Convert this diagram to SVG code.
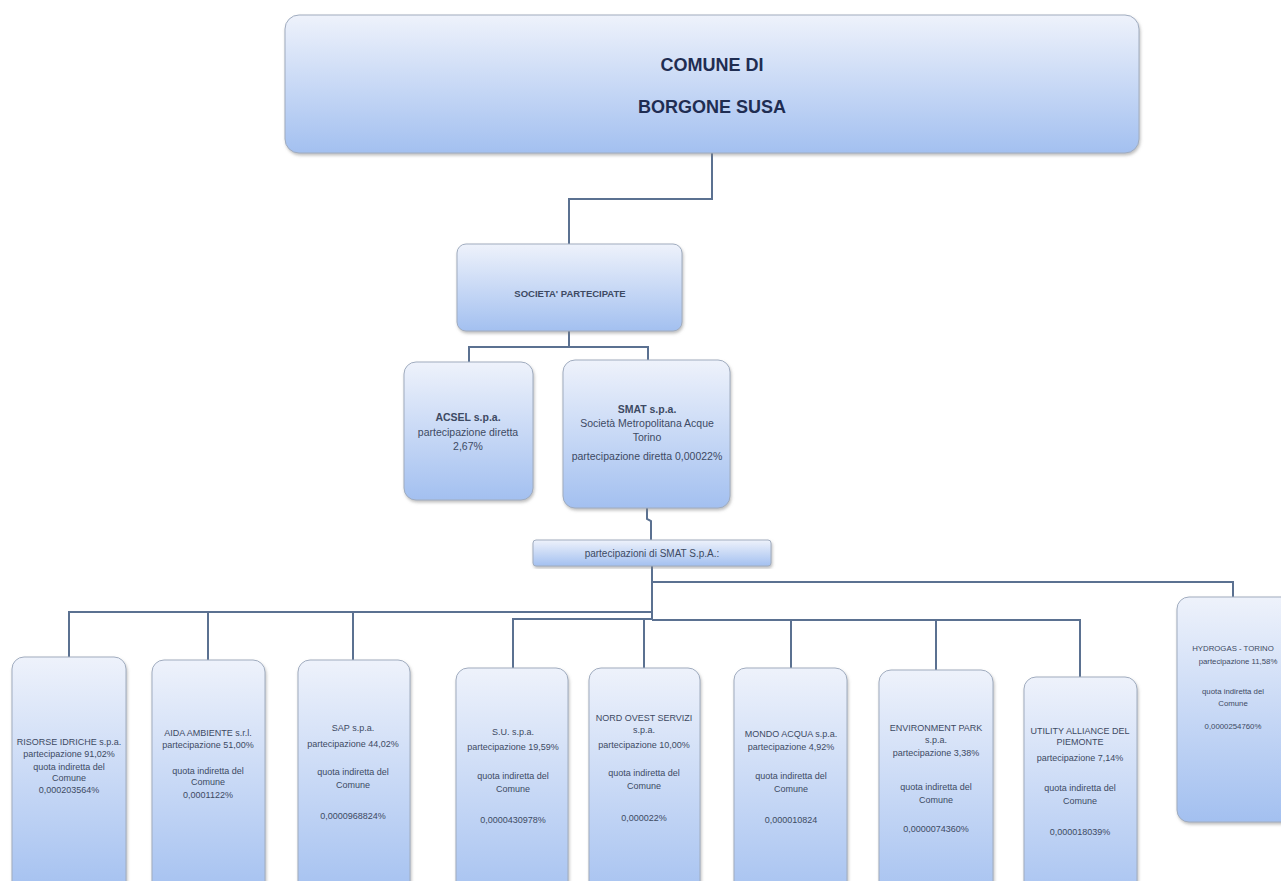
<svg xmlns="http://www.w3.org/2000/svg" width="1281" height="881" viewBox="0 0 1281 881">
<defs>
<linearGradient id="g" x1="0" y1="0" x2="0" y2="1">
<stop offset="0" stop-color="#eef2fb"/>
<stop offset="1" stop-color="#a3c0f0"/>
</linearGradient>
<filter id="sh" x="-10%" y="-10%" width="120%" height="120%">
<feDropShadow dx="1" dy="2" stdDeviation="1.5" flood-color="#808080" flood-opacity="0.5"/>
</filter>
</defs>
<style>
.box{fill:url(#g);stroke:#a0acbf;stroke-width:1;filter:url(#sh)}
.t{font-family:"Liberation Sans",Arial,sans-serif;font-size:9px;fill:#3d4a63;text-anchor:middle}
.m{font-size:10.5px}
.s{font-size:7.8px}
.b{font-weight:bold}
.big{font-family:"Liberation Sans",Arial,sans-serif;font-size:18px;font-weight:bold;fill:#1f2d52;text-anchor:middle}
.c{fill:none;stroke:#5b7191;stroke-width:2}
</style>
<rect width="1281" height="881" fill="#ffffff"/>
<g id="connectors">
<path class="c" d="M712 153 V199 H569 V244"/>
<path class="c" d="M569 331 V347 H469 V362 M569 347 H648 V360"/>
<path class="c" d="M647 508 V519 L651 521 V540"/>
<path class="c" d="M652 566 V620"/>
<path class="c" d="M652 582 H1233 V597"/>
<path class="c" d="M652 612 H69 V657 M208 612 V660 M353 612 V661"/>
<path class="c" d="M652 619 H513 V668 M644 619 V668 M652 620 H1080 V677 M791 620 V668 M936 620 V670"/>
</g>
<g id="comune">
<rect class="box" x="285" y="15" width="854" height="138" rx="14"/>
<text class="big" x="712" y="71">COMUNE DI</text>
<text class="big" x="712" y="113">BORGONE SUSA</text>
</g>
<g id="partecipate">
<rect class="box" x="457" y="244" width="225" height="87" rx="9"/>
<text class="t b" x="570" y="297" style="font-size:9.5px">SOCIETA'  PARTECIPATE</text>
</g>
<g id="acsel">
<rect class="box" x="404" y="362" width="129" height="138" rx="12"/>
<text class="t m b" x="468" y="421">ACSEL  s.p.a.</text>
<text class="t m" x="468" y="436">partecipazione diretta</text>
<text class="t m" x="468" y="450">2,67%</text>
</g>
<g id="smat">
<rect class="box" x="563" y="360" width="167" height="148" rx="12"/>
<text class="t m b" x="647" y="413">SMAT s.p.a.</text>
<text class="t m" x="647" y="427">Società Metropolitana Acque</text>
<text class="t m" x="647" y="441">Torino</text>
<text class="t m" x="647" y="460">partecipazione diretta 0,00022%</text>
</g>
<g id="smat-part">
<rect class="box" x="533" y="540" width="238" height="26" rx="3"/>
<text class="t" x="652" y="557" style="font-size:10px">partecipazioni di SMAT S.p.A.:</text>
</g>
<g id="risorse">
<rect class="box" x="12" y="657" width="114" height="240" rx="12"/>
<text class="t" x="69" y="745">RISORSE IDRICHE s.p.a.</text>
<text class="t" x="69" y="757">partecipazione  91,02%</text>
<text class="t" x="69" y="770">quota indiretta del</text>
<text class="t" x="69" y="781">Comune</text>
<text class="t" x="69" y="793">0,000203564%</text>
</g>
<g id="aida">
<rect class="box" x="152" y="660" width="113" height="240" rx="12"/>
<text class="t" x="208" y="736">AIDA AMBIENTE s.r.l.</text>
<text class="t" x="208" y="748">partecipazione 51,00%</text>
<text class="t" x="208" y="774">quota indiretta del</text>
<text class="t" x="208" y="785">Comune</text>
<text class="t" x="208" y="798">0,0001122%</text>
</g>
<g id="sap">
<rect class="box" x="298" y="660" width="112" height="240" rx="12"/>
<text class="t" x="353" y="731">SAP s.p.a.</text>
<text class="t" x="353" y="747">partecipazione 44,02%</text>
<text class="t" x="353" y="775">quota indiretta del</text>
<text class="t" x="353" y="788">Comune</text>
<text class="t" x="353" y="819">0,0000968824%</text>
</g>
<g id="su">
<rect class="box" x="456" y="668" width="112" height="240" rx="12"/>
<text class="t" x="513" y="735">S.U.  s.p.a.</text>
<text class="t" x="513" y="750">partecipazione 19,59%</text>
<text class="t" x="513" y="779">quota indiretta del</text>
<text class="t" x="513" y="792">Comune</text>
<text class="t" x="513" y="823">0,0000430978%</text>
</g>
<g id="nordovest">
<rect class="box" x="589" y="668" width="111" height="240" rx="12"/>
<text class="t" x="644" y="721">NORD  OVEST SERVIZI</text>
<text class="t" x="644" y="733">s.p.a.</text>
<text class="t" x="644" y="748">partecipazione 10,00%</text>
<text class="t" x="644" y="776">quota indiretta del</text>
<text class="t" x="644" y="789">Comune</text>
<text class="t" x="644" y="821">0,000022%</text>
</g>
<g id="mondoacqua">
<rect class="box" x="734" y="668" width="113" height="240" rx="12"/>
<text class="t" x="791" y="737">MONDO ACQUA s.p.a.</text>
<text class="t" x="791" y="750">partecipazione 4,92%</text>
<text class="t" x="791" y="779">quota indiretta del</text>
<text class="t" x="791" y="792">Comune</text>
<text class="t" x="791" y="823">0,000010824</text>
</g>
<g id="envpark">
<rect class="box" x="879" y="670" width="114" height="240" rx="12"/>
<text class="t" x="936" y="731">ENVIRONMENT PARK</text>
<text class="t" x="936" y="743">s.p.a.</text>
<text class="t" x="936" y="756">partecipazione   3,38%</text>
<text class="t" x="936" y="790">quota indiretta del</text>
<text class="t" x="936" y="803">Comune</text>
<text class="t" x="936" y="832">0,0000074360%</text>
</g>
<g id="utility">
<rect class="box" x="1024" y="677" width="113" height="240" rx="12"/>
<text class="t" x="1080" y="734">UTILITY ALLIANCE DEL</text>
<text class="t" x="1080" y="745">PIEMONTE</text>
<text class="t" x="1080" y="761">partecipazione 7,14%</text>
<text class="t" x="1080" y="791">quota indiretta del</text>
<text class="t" x="1080" y="804">Comune</text>
<text class="t" x="1080" y="835">0,000018039%</text>
</g>
<g id="hydrogas">
<rect class="box" x="1177" y="597" width="120" height="225" rx="12"/>
<text class="t s" x="1233" y="651">HYDROGAS - TORINO</text>
<text class="t s" x="1238" y="664">partecipazione 11,58%</text>
<text class="t s" x="1233" y="694">quota indiretta del</text>
<text class="t s" x="1233" y="706">Comune</text>
<text class="t s" x="1233" y="729">0,0000254760%</text>
</g>
</svg>
